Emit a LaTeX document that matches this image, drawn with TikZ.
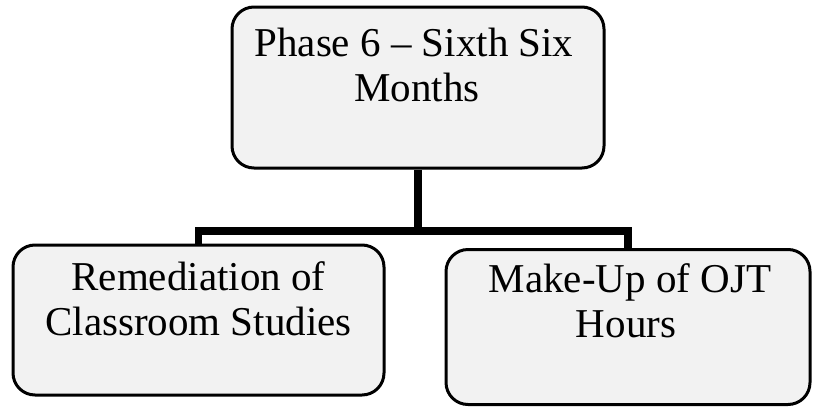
\documentclass[tikz,border=0pt]{standalone}
\usepackage{fontspec}
\setmainfont{Liberation Serif}
\begin{document}
\begin{tikzpicture}[x=1pt,y=-1pt,
  box/.style={draw=black,line width=3pt,fill=black!5,rounded corners=22pt,inner sep=0pt},
  conn/.style={draw=black,line width=7.5pt,line join=miter},
  txt/.style={font=\fontsize{41}{48}\selectfont,anchor=base,inner sep=0pt}]
\useasboundingbox (0,0) rectangle (813,407);
\node[box,minimum width=372pt,minimum height=161pt] (top) at (418,87.5) {};
\node[box,minimum width=371pt,minimum height=150pt] (left) at (198.5,320) {};
\node[box,minimum width=364pt,minimum height=155pt] (right) at (628,327) {};
\coordinate (bus) at (417,231);
\draw[conn] (top.south) -- (top.south |- bus);
\draw[conn] (left.north) -- (left.north |- bus) -- (right.north |- bus) -- (right.north);
\node[txt] (t1) at (414,56) {Phase 6 -- Sixth Six};
\node[txt] (t2) at (417,101) {Months};
\node[txt] (l1) at (198.5,290) {Remediation of};
\node[txt] (l2) at (198.5,335) {Classroom Studies};
\node[txt] (r1) at (630,292) {Make-Up of OJT};
\node[txt] (r2) at (626,337) {Hours};
\end{tikzpicture}
\end{document}
